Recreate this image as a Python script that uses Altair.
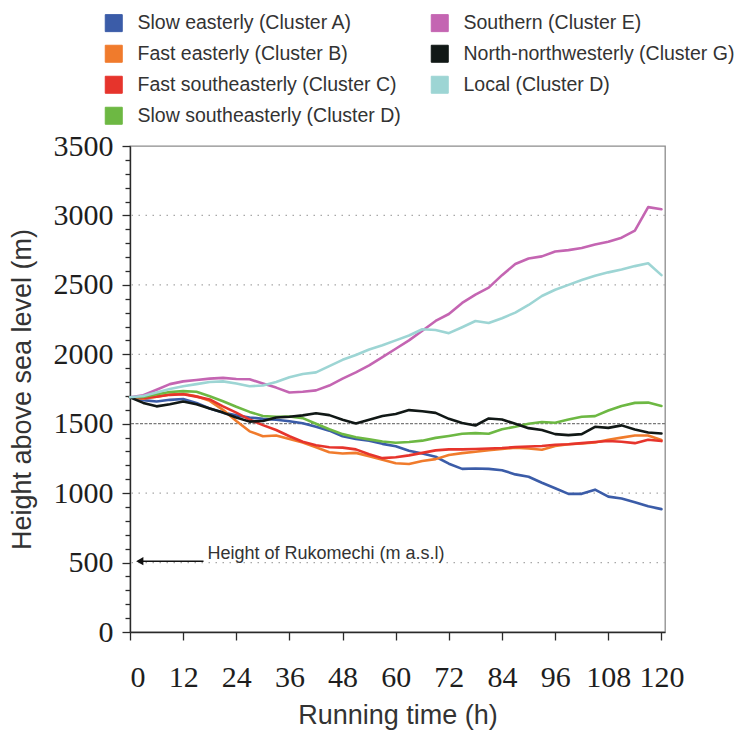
import altair as alt
import pandas as pd

# Running time of the back-trajectories (h)
hours = list(range(0, 121, 3))

# Mean trajectory height above sea level (m) for each cluster
slow_easterly_a = [1690, 1670, 1660, 1672, 1678, 1650, 1610, 1580, 1560, 1545, 1535, 1528, 1518,
                   1503, 1478, 1450, 1410, 1390, 1378, 1355, 1338, 1305, 1285, 1262, 1212, 1175,
                   1178, 1175, 1165, 1135, 1118, 1075, 1035, 995, 995, 1025, 975, 962, 935, 905, 885]
fast_easterly_b = [1690, 1680, 1695, 1710, 1715, 1698, 1665, 1600, 1520, 1445, 1410, 1415, 1390,
                   1365, 1330, 1295, 1285, 1290, 1265, 1240, 1215, 1210, 1232, 1245, 1275, 1288,
                   1298, 1310, 1318, 1328, 1322, 1312, 1340, 1352, 1358, 1365, 1385, 1400, 1415, 1415, 1382]
fast_southeasterly_c = [1690, 1685, 1695, 1708, 1712, 1695, 1675, 1625, 1580, 1530, 1490, 1455, 1410,
                        1370, 1345, 1330, 1328, 1315, 1280, 1252, 1258, 1272, 1290, 1308, 1315, 1315,
                        1318, 1322, 1325, 1332, 1336, 1340, 1348, 1352, 1360, 1368, 1375, 1370, 1360, 1385, 1375]
slow_southeasterly_d = [1690, 1692, 1712, 1728, 1735, 1730, 1698, 1662, 1622, 1585, 1556, 1550, 1552,
                        1540, 1500, 1460, 1425, 1402, 1387, 1372, 1363, 1368, 1378, 1398, 1412, 1428,
                        1432, 1428, 1460, 1478, 1500, 1512, 1507, 1530, 1550, 1555, 1595, 1628, 1650, 1652, 1628]
southern_e = [1690, 1705, 1745, 1785, 1805, 1815, 1825, 1830, 1822, 1820, 1790, 1760, 1725,
              1730, 1740, 1775, 1825, 1870, 1920, 1980, 2040, 2100, 2170, 2240, 2290, 2370,
              2430, 2480, 2570, 2650, 2690, 2705, 2740, 2750, 2765, 2790, 2810, 2840, 2890, 3060, 3045]
north_northwesterly_g = [1690, 1650, 1625, 1640, 1660, 1640, 1610, 1580, 1545, 1515, 1520, 1545, 1550,
                         1560, 1575, 1562, 1528, 1502, 1528, 1555, 1570, 1598, 1590, 1578, 1535, 1505,
                         1487, 1538, 1530, 1500, 1468, 1455, 1425, 1418, 1425, 1478, 1470, 1488, 1458, 1437, 1430]
local_d = [1690, 1700, 1725, 1750, 1770, 1785, 1800, 1805, 1790, 1770, 1775, 1800, 1835,
           1858, 1870, 1915, 1960, 1995, 2035, 2065, 2100, 2135, 2180, 2175, 2152, 2195,
           2240, 2225, 2260, 2300, 2355, 2420, 2465, 2500, 2535, 2565, 2590, 2610, 2635, 2655, 2570]

series_names = [
    "Slow easterly (Cluster A)",
    "Fast easterly (Cluster B)",
    "Fast southeasterly (Cluster C)",
    "Slow southeasterly (Cluster D)",
    "Southern (Cluster E)",
    "North-northwesterly (Cluster G)",
    "Local (Cluster D)",
]
series_values = [slow_easterly_a, fast_easterly_b, fast_southeasterly_c, slow_southeasterly_d,
                 southern_e, north_northwesterly_g, local_d]
series_colors = ["#3b5ca8", "#f07b2c", "#e6342c", "#6db843", "#c465b2", "#111816", "#9dd5d4"]

# Reference heights (m)
grid_levels = [500, 1000, 2000, 2500, 3000]
threshold_level = [1500]
site_height = 500
site_label = "Height of Rukomechi (m a.s.l)"

rows = []
for name, vals in zip(series_names, series_values):
    for h, v in zip(hours, vals):
        rows.append({"hour": h, "height": v, "trajectory": name})
df = pd.DataFrame(rows)

x_scale = alt.Scale(domain=[0, 120.8], nice=False, zero=False)
y_scale = alt.Scale(domain=[0, 3500], nice=False)
color_scale = alt.Scale(domain=series_names, range=series_colors)

x_axis = alt.Axis(
    values=list(range(0, 121, 12)),
    title="Running time (h)",
    tickSize=8,
    labelPadding=22,
    titlePadding=10,
    grid=False,
)
# Minor ticks every 100 m are drawn as short dashes of the full-length tick
y_axis = alt.Axis(
    values=list(range(0, 3501, 100)),
    format="d",
    labelExpr="datum.value % 500 === 0 ? datum.label : ''",
    title="Height above sea level (m)",
    tickSize=8,
    tickDash={"condition": {"test": "datum.value % 500 !== 0", "value": [5, 20]}, "value": [10, 0]},
    labelPadding=9,
    titlePadding=17,
    grid=False,
)

X = alt.X("hour:Q", scale=x_scale, axis=x_axis)
Y = alt.Y("height:Q", scale=y_scale, axis=y_axis)

grid = alt.Chart(pd.DataFrame({"height": grid_levels})).mark_rule(
    color="#a8a8a8", strokeWidth=1.3, strokeDash=[1.5, 5.5]
).encode(y=Y)

threshold = alt.Chart(pd.DataFrame({"height": threshold_level})).mark_rule(
    color="#7a7a7a", strokeWidth=1.2, strokeDash=[3, 1.5]
).encode(y=Y)

lines = alt.Chart(df).mark_line(strokeWidth=2.6, strokeJoin="round", strokeCap="round").encode(
    x=X,
    y=Y,
    stroke=alt.Stroke("trajectory:N", scale=color_scale, legend=None),
    detail="trajectory:N",
)

arrow_df = pd.DataFrame({"hour": [2.2], "hour_end": [16.6], "height": [site_height + 10]})
arrow_line = alt.Chart(arrow_df).mark_rule(color="#111", strokeWidth=1.6).encode(
    x=X, x2="hour_end:Q", y=Y,
)
arrow_head = alt.Chart(arrow_df).mark_point(
    shape="triangle-left", filled=True, color="#111", size=70, opacity=1
).encode(x=X, y=Y)

note = alt.Chart(pd.DataFrame({"hour": [17.5], "height": [site_height + 65], "label": [site_label]})).mark_text(
    align="left", baseline="middle", font="Liberation Sans", fontSize=18, color="#333"
).encode(x=X, y=Y, text="label:N")

# Filled square swatches for the legend (two columns, filled top to bottom);
# the layer itself draws no marks
legend_layer = alt.Chart(pd.DataFrame({"trajectory": series_names})).transform_filter("false").mark_square(
    filled=True, opacity=1
).encode(
    fill=alt.Fill(
        "trajectory:N",
        scale=color_scale,
        legend=alt.Legend(
            title=None,
            orient="none",
            legendX=-26,
            legendY=-133,
            columns=2,
            symbolType="square",
            symbolSize=289,
            symbolStrokeColor="#333",
            symbolStrokeWidth=1,
            symbolOpacity=1,
            labelFont="Liberation Sans",
            labelFontSize=19.5,
            labelColor="#333",
            labelOffset=14,
            labelLimit=500,
            rowPadding=9,
            columnPadding=28,
            padding=0,
        ),
    )
)

chart = alt.layer(legend_layer, grid, threshold, lines, arrow_line, arrow_head, note).properties(
    width=535,
    height=486,
    autosize=alt.AutoSizeParams(type="none"),
    padding={"left": 130, "top": 146, "right": 74, "bottom": 99},
    background="white",
).configure_view(
    stroke="#8c8c8c", strokeWidth=1.3
).configure_axis(
    domainColor="#2a2a2a",
    domainWidth=1.4,
    tickColor="#2a2a2a",
    tickWidth=1.3,
    labelFont="Liberation Serif",
    labelFontSize=30,
    labelColor="#1e1e1e",
    titleFont="Liberation Sans",
    titleFontSize=27,
    titleFontWeight="normal",
    titleColor="#333",
)

chart.save("out.html", embed_options={"renderer": "svg", "actions": False})
